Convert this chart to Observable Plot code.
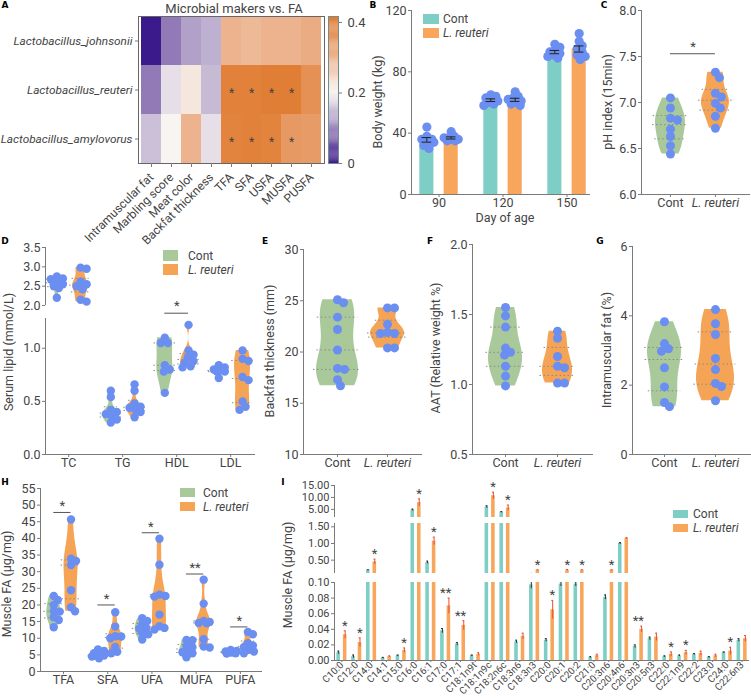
<!DOCTYPE html>
<html><head><meta charset="utf-8">
<script src="https://cdn.jsdelivr.net/npm/d3@7"></script>
<script src="https://cdn.jsdelivr.net/npm/@observablehq/plot@0.6"></script>
<style>
html,body{margin:0;padding:0;background:#fff;}
#root{position:relative;width:751px;height:698px;overflow:hidden;background:#fff;font-family:Roboto,"Open Sans",sans-serif;}
</style></head><body><div id="root"></div>
<script>
// ---------------- DATA ----------------
// Panel A
const heatRows = ["Lactobacillus_johnsonii","Lactobacillus_reuteri","Lactobacillus_amylovorus"];
const heatCols = ["Intramuscular fat","Marbling score","Meat color","Backfat thickness","TFA","SFA","USFA","MUSFA","PUSFA"];
const heatJohnsonii  = [0.00,0.085,0.12,0.135,0.30,0.29,0.30,0.30,0.315];
const heatReuteri    = [0.085,0.18,0.22,0.145,0.405,0.405,0.41,0.41,0.37];
const heatAmylovorus = [0.15,0.20,0.30,0.18,0.40,0.405,0.40,0.355,0.35];
const heatStarsReuteri    = ["TFA","SFA","USFA","MUSFA"];
const heatStarsAmylovorus = ["TFA","SFA","USFA","MUSFA"];
const heatLegendTicks = [0,0.2,0.4];
const heatTitle = "Microbial makers vs. FA";
// Panel B
const bwDays = ["90","120","150"];
const bwCont    = [[44,38,36,35,34,32,30,36],[65,64,62,61,60,59,58,63],[98,96,94,93,92,90,89,91]];
const bwReuteri = [[41,38,37,36,36,35,35,37],[67,64,62,61,60,59,58,63],[105,100,97,95,93,91,88,90]];
// Panel C
const phCont    = [7.05,6.94,6.83,6.81,6.71,6.63,6.53,6.44];
const phReuteri = [7.33,7.27,7.10,7.06,6.99,6.94,6.85,6.72];
const phSig = "*", phSigY = 7.53;
// Panel D
const lipidCats = ["TC","TG","HDL","LDL"];
const lipidCont = [[2.75,2.70,2.68,2.62,2.55,2.50,2.45,2.20],[0.60,0.54,0.42,0.40,0.38,0.36,0.33,0.30],[1.10,1.05,1.05,0.84,0.80,0.78,0.58],[0.84,0.82,0.80,0.79,0.78,0.78,0.72]];
const lipidReuteri = [[2.98,2.95,2.62,2.55,2.50,2.42,2.15,2.10],[0.66,0.60,0.48,0.45,0.44,0.42,0.40,0.35],[1.22,0.98,0.94,0.91,0.88,0.86,0.83,0.82],[0.98,0.90,0.88,0.73,0.70,0.50,0.45,0.42]];
const lipidSig = ["","","*",""], lipidSigY = 1.33;
// Panels E, F, G
const backfatCont    = [25.1,24.8,23.4,22.2,20.2,18.4,18.3,17.3,16.7];
const backfatReuteri = [24.3,24.3,22.7,21.9,21.8,21.8,20.4,20.4];
const aatCont    = [1.55,1.49,1.41,1.26,1.23,1.21,1.13,1.06,0.99];
const aatReuteri = [1.38,1.33,1.20,1.13,1.12,1.01,1.01];
const imfCont    = [3.83,3.20,3.05,2.98,2.50,1.95,1.50,1.38];
const imfReuteri = [4.18,3.77,3.46,2.77,2.45,2.05,1.96,1.55];
// Panel H
const mfaCats = ["TFA","SFA","UFA","MUFA","PUFA"];
const mfaCont = [[22.7,21.5,20.0,18.2,18.0,16.3,15.5,13.3],[6.6,6.2,5.5,5.1,4.8,4.7,4.5,4.0],[16.0,15.2,14.2,13.0,12.9,11.5,11.2,9.6],[9.5,9.4,7.7,7.3,6.2,5.8,5.5,4.3],[6.5,6.2,6.0,5.9,5.8,5.7,5.5,5.4]];
const mfaReuteri = [[45.7,33.9,33.2,32.0,24.4,19.3,18.1],[17.8,13.5,10.6,10.5,10.0,7.4,5.9,5.5],[39.9,32.1,23.1,22.7,22.5,17.1,13.6,13.1,12.6],[27.6,20.4,15.2,14.9,14.6,14.5,9.7,7.5,7.2],[11.9,11.2,8.5,7.8,7.3,6.5,6.0,5.5]];
const mfaSig = ["*","*","*","**","*"];
const mfaSigY = [47.8,20.0,41.7,29.3,13.4];
// Panel I
const faNames = ["C10:0","C12:0","C14:0","C14:1","C15:0","C16:0","C16:1","C17:0","C17:1","C18:1n9t","C18:1n9c","C18:2n6c","C18:3n6","C18:3n3","C20:0","C20:1","C20:2","C21:0","C20:3n6","C20:4n6","C20:3n3","C20:5n3","C22:0","C22:1n9","C22:2","C23:0","C24:0","C22:6n3"];
const faCont     = [0.010,0.005,0.20,0.003,0.006,4.7,0.43,0.038,0.021,0.006,6.0,3.8,0.024,0.097,0.026,0.098,0.098,0.004,0.081,1.0,0.018,0.028,0.005,0.006,0.008,0.004,0.010,0.026];
const faReuteri  = [0.033,0.023,0.45,0.005,0.013,7.8,1.07,0.070,0.045,0.008,10.7,5.6,0.031,0.20,0.065,0.20,0.20,0.006,0.20,1.15,0.040,0.030,0.008,0.010,0.009,0.006,0.012,0.028];
const faContErr  = [0.002,0.002,0.01,0.001,0.001,0.4,0.04,0.003,0.002,0.001,0.5,0.3,0.002,0.005,0.002,0.003,0.003,0.001,0.003,0.03,0.002,0.002,0.001,0.001,0.001,0.001,0.001,0.002];
const faReuteriErr=[0.005,0.006,0.08,0.001,0.003,1.6,0.12,0.010,0.006,0.002,1.5,1.2,0.004,0.01,0.012,0.02,0.01,0.002,0.01,0.03,0.004,0.005,0.003,0.003,0.003,0.002,0.005,0.004];
const faSig = ["*","*","*","","*","*","*","**","**","","*","*","","*","*","*","*","","*","","**","","*","*","","","*",""];
const groupNames = ["Cont","L. reuteri"];

// ---------------- STYLE ----------------
const FONT = "Roboto, 'Open Sans', sans-serif";
const TXT = "#444", AX = "#7a7a7a", DOT = "#6b8ef1";
const CONT_BAR = "#7dcec5", LR_BAR = "#f7a65b";
const CONT_VIO = "#a9c99b", LR_VIO = "#f5a456";
const root = document.getElementById("root");

function mk(opts, left, top){
  const svg = Plot.plot({...opts, style:{fontFamily:FONT, fontSize:"12.5px", color:TXT, background:"transparent", overflow:"visible"}});
  svg.style.position = "absolute"; svg.style.left = left+"px"; svg.style.top = top+"px";
  root.appendChild(svg); return svg;
}
function txt(x, y, s, o={}){
  const d = document.createElement("div"); d.textContent = s;
  const tr = o.left ? "translate(0,-50%)" : "translate(-50%,-50%)"+(o.rot?" rotate(-90deg)":"");
  Object.assign(d.style, {position:"absolute", left:x+"px", top:y+"px", transform:tr,
    whiteSpace:"nowrap", fontSize:(o.size||12.5)+"px", color:o.color||TXT, fontWeight:o.bold?"bold":"normal",
    fontStyle:o.italic?"italic":"normal", fontFamily:o.font||FONT, lineHeight:"1"});
  root.appendChild(d);
}
function legend(x, y, items, sw, sh, gap, tx){
  items.forEach((it,k)=>{
    const s = document.createElement("div");
    Object.assign(s.style,{position:"absolute", left:x+"px", top:(y+k*gap)+"px", width:sw+"px", height:sh+"px", background:it.color});
    root.appendChild(s);
    txt(tx, y+k*gap+sh/2, it.label, {italic:it.italic, size:12, left:true});
  });
}
function kdeProfile(values, n=60){
  const s = values.slice().sort(d3.ascending);
  const mn = s[0], mx = s[s.length-1];
  const sd = d3.deviation(s);
  const iqr = d3.quantile(s,0.75)-d3.quantile(s,0.25);
  let h = 0.9*Math.min(sd, iqr>0 ? iqr/1.34 : sd)*Math.pow(s.length,-0.2);
  if(!(h>0)) h = (mx-mn)/4 || 0.01;
  const dens = y => d3.mean(s, v => Math.exp(-0.5*((y-v)/h)**2));
  const pts = d3.range(n+1).map(i => { const y = mn+(mx-mn)*i/n; return {y, d:dens(y)}; });
  const dmax = d3.max(pts, p => p.d);
  pts.forEach(p => p.w = p.d/dmax);
  return {pts, w: y => dens(y)/dmax, s};
}
// simple beeswarm in pixel space: returns horizontal pixel offsets
function swarmOffsets(values, pxY, r, factor, maxOff){
  const order = d3.range(values.length).sort((a,b)=>d3.descending(values[a],values[b]));
  const placed = [], off = new Array(values.length).fill(0), minD = 2*r*factor;
  for(const i of order){
    const y = values[i]*pxY;
    let best = 0, bestD = -1;
    for(let k=0;k<=2*maxOff;k++){
      const c = k===0 ? 0 : (k%2 ? 1 : -1)*Math.ceil(k/2);
      const dmin = placed.length ? d3.min(placed, p => Math.hypot(p.x-c, p.y-y)) : Infinity;
      if(dmin >= minD){ best = c; break; }
      if(dmin > bestD){ bestD = dmin; best = c; }
    }
    off[i] = best; placed.push({x:best, y});
  }
  return off;
}
function violinPlot(c){
  const {left, top, width, height, mL, mT, mR, mB, xDom, yDom, yTicks, yFmt, groups, r=4.5} = c;
  const pxX = (width-mL-mR)/(xDom[1]-xDom[0]);
  const pxY = (height-mT-mB)/(yDom[1]-yDom[0]);
  const marks = [];
  for(const g of groups){
    const prof = kdeProfile(g.values); const hw = g.hw/pxX;
    marks.push(Plot.areaX(prof.pts, {y:"y", x1:p=>g.pos-hw*p.w, x2:p=>g.pos+hw*p.w, fill:g.fill}));
    const qs = [0.25,0.5,0.75].map(q => d3.quantile(prof.s, q));
    marks.push(Plot.ruleY(qs, {y:d=>d, x1:d=>g.pos-hw*prof.w(d)-3/pxX, x2:d=>g.pos+hw*prof.w(d)+3/pxX, stroke:"#8a8a8a", strokeDasharray:"1.5,2.5"}));
  }
  for(const g of groups){
    const off = swarmOffsets(g.values, pxY, r, c.factor || 0.72, Math.max(6, Math.round(g.hw*0.7)));
    marks.push(Plot.dot(g.values.map((v,i)=>({x:g.pos+off[i]/pxX, y:v})), {x:"x", y:"y", r, fill:DOT}));
  }
  marks.push(Plot.ruleX([xDom[0]], {y1:c.yLine[0], y2:c.yLine[1], stroke:AX}));
  if(c.xLine !== false) marks.push(Plot.ruleY([yDom[0]], {stroke:AX}));
  marks.push(Plot.axisY({ticks:yTicks, tickFormat:yFmt, tickSize:3, tickPadding:2, stroke:AX, label:null}));
  if(c.xTicks){
    c.xTicks.forEach((p,k)=>{
      marks.push(Plot.axisX({ticks:[p], tickFormat:()=>c.xLabels[k], fontStyle:(c.italic||[]).includes(k)?"italic":"normal", tickSize:3, tickPadding:1, stroke:AX, label:null}));
    });
  }
  if(c.extra) marks.push(...c.extra);
  return mk({width, height, marginLeft:mL, marginTop:mT, marginRight:mR, marginBottom:mB,
    x:{domain:xDom, axis:null}, y:{domain:yDom, axis:null}, marks}, left, top);
}

// ---------------- PANEL A ----------------
const heatData = [];
[heatJohnsonii, heatReuteri, heatAmylovorus].forEach((arr,r)=>arr.forEach((v,c)=>heatData.push({row:heatRows[r], col:heatCols[c], v})));
const heatStars = [...heatStarsReuteri.map(col=>({row:heatRows[1], col})), ...heatStarsAmylovorus.map(col=>({row:heatRows[2], col}))];
const heatColor = {type:"linear", domain:[0,0.1,0.2,0.3,0.417], range:["#3b1a8c","#a08bbd","#f7f4f2","#ecb38e","#e07b30"]};
mk({width:330, height:230, marginLeft:138, marginRight:6, marginTop:16, marginBottom:67,
  x:{domain:heatCols, padding:0, axis:null}, y:{domain:heatRows, padding:0, axis:null}, color:heatColor,
  marks:[
    Plot.cell(heatData, {x:"col", y:"row", fill:"v"}),
    Plot.text(heatStars, {x:"col", y:"row", text:()=>"*", fontSize:12, fill:"#444", dy:3}),
    Plot.frame({stroke:"#666"}),
    Plot.axisY({tickSize:3, tickPadding:3, fontStyle:"italic", fontSize:11.8, stroke:AX, label:null}),
    Plot.axisX({tickRotate:-45, tickSize:4, fontSize:12, stroke:AX, label:null})
  ]}, 0, 0);
const stripes = d3.range(0, 0.417, 0.003);
mk({width:40, height:230, marginLeft:2, marginRight:28, marginTop:16, marginBottom:67,
  x:{domain:[0,1], axis:null}, y:{domain:[0,0.417], axis:null}, color:heatColor,
  marks:[
    Plot.rect(stripes, {x1:0, x2:1, y1:d=>d, y2:d=>Math.min(0.417, d+0.0035), fill:d=>d}),
    Plot.frame({stroke:"#6f8f8f"}),
    Plot.axisY({anchor:"right", ticks:heatLegendTicks, tickFormat:d=>d===0?"0":d.toFixed(1), tickSize:3, fontSize:13, stroke:AX, label:null})
  ]}, 326, 0);
txt(234, 8, heatTitle, {size:13});

// ---------------- PANEL B ----------------
{
  const xDom = [-0.43, 2.367], pxX = 64, pxY = 184/120;
  const stats = [], pts = [];
  bwDays.forEach((d,i)=>{
    [[bwCont[i], -0.19, "c"], [bwReuteri[i], 0.19, "r"]].forEach(([vals, off, g])=>{
      const pos = i+off;
      stats.push({pos, g, mean:d3.mean(vals), sem:d3.deviation(vals)/Math.sqrt(vals.length)});
      const o = swarmOffsets(vals, pxY, 4.6, 0.55, 7);
      vals.forEach((v,k)=>pts.push({x:pos+o[k]/pxX, y:v}));
    });
  });
  mk({width:235, height:225, marginLeft:51, marginTop:10, marginRight:5, marginBottom:31,
    x:{domain:xDom, axis:null}, y:{domain:[0,120], axis:null},
    marks:[
      Plot.rect(stats.filter(d=>d.g==="c"), {x1:d=>d.pos-0.11, x2:d=>d.pos+0.11, y1:0, y2:"mean", fill:CONT_BAR}),
      Plot.rect(stats.filter(d=>d.g==="r"), {x1:d=>d.pos-0.11, x2:d=>d.pos+0.11, y1:0, y2:"mean", fill:LR_BAR}),
      Plot.dot(pts, {x:"x", y:"y", r:4.6, fill:DOT}),
      Plot.ruleX(stats, {x:"pos", y1:d=>d.mean-d.sem, y2:d=>d.mean+d.sem, stroke:"#222"}),
      Plot.ruleY(stats, {y:d=>d.mean+d.sem, x1:d=>d.pos-0.075, x2:d=>d.pos+0.075, stroke:"#222"}),
      Plot.ruleY(stats, {y:d=>d.mean-d.sem, x1:d=>d.pos-0.075, x2:d=>d.pos+0.075, stroke:"#222"}),
      Plot.ruleX([xDom[0]], {stroke:AX}),
      Plot.ruleY([0], {stroke:AX}),
      Plot.axisY({ticks:[0,40,80,120], tickSize:3, tickPadding:2, stroke:AX, label:null}),
      Plot.axisX({ticks:[0,1,2], tickFormat:i=>bwDays[i], tickSize:3, tickPadding:1, stroke:AX, label:null})
    ]}, 360, 0);
  txt(378, 102, "Body weight (kg)", {rot:true});
  txt(505, 218, "Day of age");
  legend(423, 14, [{color:CONT_BAR, label:groupNames[0]}, {color:LR_BAR, label:groupNames[1], italic:true}], 16, 10, 14, 443);
}

// ---------------- PANEL C ----------------
violinPlot({left:595, top:0, width:156, height:225, mL:46, mT:10, mR:1, mB:31,
  xDom:[-0.644,1.78], yDom:[6,8], yTicks:[6,6.5,7,7.5,8], yFmt:d=>d.toFixed(1), yLine:[6,8],
  groups:[{pos:0, values:phCont, fill:CONT_VIO, hw:15},{pos:1, values:phReuteri, fill:LR_VIO, hw:14}],
  xTicks:[0,1], xLabels:groupNames, italic:[1],
  extra:[Plot.ruleY([phSigY], {x1:0, x2:1, stroke:"#555"}), Plot.text([phSig], {x:0.5, y:phSigY, text:d=>d, dy:-3, lineAnchor:"bottom", fontSize:13, fill:"#444"})]});
txt(608, 102, "pH index (15min)", {rot:true});

// ---------------- PANEL D ----------------
{
  const xDom = [-0.43, 3.46];
  violinPlot({left:0, top:232, width:260, height:75, mL:45, mT:15, mR:5, mB:2,
    xDom, yDom:[2,3.5], yTicks:[2,2.5,3,3.5], yFmt:d=>d.toFixed(1), yLine:[2,3.5], xLine:false, r:4.2,
    groups:[{pos:-0.22, values:lipidCont[0], fill:CONT_VIO, hw:8},{pos:0.22, values:lipidReuteri[0], fill:LR_VIO, hw:8}]});
  const gs = [];
  for(let i=1;i<lipidCats.length;i++){
    gs.push({pos:i-0.22, values:lipidCont[i], fill:CONT_VIO, hw:8});
    gs.push({pos:i+0.22, values:lipidReuteri[i], fill:LR_VIO, hw:8});
  }
  const sig = lipidSig.map((s,i)=>({i,s})).filter(d=>d.s);
  violinPlot({left:0, top:310, width:260, height:166, mL:45, mT:8, mR:5, mB:22,
    xDom, yDom:[0,1.28], yTicks:[0,0.5,1.0], yFmt:d=>d.toFixed(1), yLine:[0,1.28], r:4.2, groups:gs,
    xTicks:[0,1,2,3], xLabels:lipidCats,
    extra:[Plot.ruleY(sig, {y:lipidSigY, x1:d=>d.i-0.22, x2:d=>d.i+0.22, stroke:"#555"}),
           Plot.text(sig, {x:"i", y:lipidSigY, text:"s", dy:-3, lineAnchor:"bottom", fontSize:13, fill:"#444"})]});
  txt(9, 352, "Serum lipid (mmol/L)", {rot:true});
  legend(163, 250, [{color:CONT_VIO, label:groupNames[0]}, {color:LR_VIO, label:groupNames[1], italic:true}], 15, 11, 14, 188);
}

// ---------------- PANELS E F G ----------------
violinPlot({left:250, top:230, width:175, height:245, mL:53, mT:19, mR:3, mB:21,
  xDom:[-0.68,1.70], yDom:[10,30], yTicks:[10,15,20,25,30], yFmt:d=>String(d), yLine:[10,30],
  groups:[{pos:0, values:backfatCont, fill:CONT_VIO, hw:21},{pos:1, values:backfatReuteri, fill:LR_VIO, hw:17}],
  xTicks:[0,1], xLabels:groupNames, italic:[1]});
txt(270, 351, "Backfat thickness (mm)", {rot:true});
violinPlot({left:425, top:230, width:170, height:245, mL:47, mT:14, mR:2, mB:21,
  xDom:[-0.635,1.692], yDom:[0.5,2.0], yTicks:[0.5,1,1.5,2], yFmt:d=>d.toFixed(1), yLine:[0.5,2.0],
  groups:[{pos:0, values:aatCont, fill:CONT_VIO, hw:17},{pos:1, values:aatReuteri, fill:LR_VIO, hw:15}],
  xTicks:[0,1], xLabels:groupNames, italic:[1]});
txt(436, 348, "AAT (Relative weight %)", {rot:true});
violinPlot({left:595, top:230, width:156, height:245, mL:37, mT:16, mR:0, mB:21,
  xDom:[-0.627,1.706], yDom:[0,6], yTicks:[0,2,4,6], yFmt:d=>String(d), yLine:[0,6],
  groups:[{pos:0, values:imfCont, fill:CONT_VIO, hw:17},{pos:1, values:imfReuteri, fill:LR_VIO, hw:19}],
  xTicks:[0,1], xLabels:groupNames, italic:[1]});
txt(607, 350, "Intramuscular fat (%)", {rot:true});

// ---------------- PANEL H ----------------
{
  const gs = [];
  mfaCats.forEach((c,i)=>{
    gs.push({pos:i-0.22, values:mfaCont[i], fill:CONT_VIO, hw:7});
    gs.push({pos:i+0.17, values:mfaReuteri[i], fill:LR_VIO, hw:7});
  });
  const sig = mfaSig.map((s,i)=>({i, s, y:mfaSigY[i]}));
  violinPlot({left:0, top:478, width:265, height:220, mL:40, mT:10, mR:3, mB:27,
    xDom:[-0.52,4.5], yDom:[0,55], yTicks:d3.range(0,56,5), yFmt:d=>String(d), yLine:[0,55], r:4.2, groups:gs, factor:0.62,
    xTicks:[0,1,2,3,4], xLabels:mfaCats,
    extra:[Plot.ruleY(sig, {y:"y", x1:d=>d.i-0.22, x2:d=>d.i+0.17, stroke:"#555"}),
           Plot.text(sig, {x:d=>d.i-0.025, y:"y", text:"s", dy:-2, lineAnchor:"bottom", fontSize:13, fill:"#444"})]});
  txt(7, 584, "Muscle FA (μg/mg)", {rot:true});
  legend(180, 488, [{color:CONT_VIO, label:groupNames[0]}, {color:LR_VIO, label:groupNames[1], italic:true}], 15, 9, 14, 203);
}

// ---------------- PANEL I ----------------
function faSeg(top, height, mT, mB, yDom, yTicks, showX){
  const rows = faNames.map((n,i)=>({i, c:faCont[i], r:faReuteri[i], ce:faContErr[i], re:faReuteriErr[i], sig:faSig[i]}));
  const topOf = d => Math.max(d.r+d.re, d.c+d.ce);
  const stars = rows.filter(d => d.sig && topOf(d) >= yDom[0] && topOf(d) < yDom[1]);
  const marks = [
    Plot.rect(rows, {x1:d=>d.i-0.34, x2:d=>d.i-0.10, y1:0, y2:"c", fill:CONT_BAR, clip:true}),
    Plot.rect(rows, {x1:d=>d.i+0.10, x2:d=>d.i+0.34, y1:0, y2:"r", fill:LR_BAR, clip:true}),
    Plot.ruleX(rows, {x:d=>d.i-0.22, y1:d=>d.c-d.ce, y2:d=>d.c+d.ce, stroke:"#333", clip:true}),
    Plot.ruleY(rows, {y:d=>d.c+d.ce, x1:d=>d.i-0.28, x2:d=>d.i-0.16, stroke:"#333", clip:true}),
    Plot.ruleX(rows, {x:d=>d.i+0.22, y1:d=>d.r-d.re, y2:d=>d.r+d.re, stroke:"#e8503a", clip:true}),
    Plot.ruleY(rows, {y:d=>d.r+d.re, x1:d=>d.i+0.16, x2:d=>d.i+0.28, stroke:"#e8503a", clip:true}),
    Plot.text(stars, {x:d=>d.sig==="**"?d.i:d.i+0.2, y:topOf, text:"sig", dy:-1, lineAnchor:"bottom", fontSize:13, fill:"#444"}),
    Plot.ruleX([-0.5], {y1:yDom[0], y2:yDom[1], stroke:AX}),
    Plot.axisY({ticks:yTicks, tickFormat:d=>d.toFixed(2), tickSize:3, tickPadding:2, fontSize:11, stroke:AX, label:null})
  ];
  if(showX){
    marks.push(Plot.ruleY([0], {stroke:AX}));
    marks.push(Plot.axisX({ticks:d3.range(faNames.length), tickFormat:i=>faNames[i], tickRotate:-45, tickSize:2, tickPadding:1, fontSize:9.8, stroke:AX, label:null}));
  }
  mk({width:461, height, marginLeft:44, marginRight:2, marginTop:mT, marginBottom:mB,
    x:{domain:[-0.5,27.5], axis:null}, y:{domain:yDom, axis:null}, marks}, 290, top);
}
faSeg(478, 42, 7, 3, [1.6,15], [5,10,15], false);
faSeg(519, 56, 4, 2, [0.1,1.6], [0.5,1.0,1.5], false);
faSeg(576, 122, 6, 38, [0,0.1], [0,0.02,0.04,0.06,0.08,0.1], true);
txt(288, 575, "Muscle FA (μg/mg)", {rot:true});
legend(673, 510, [{color:CONT_BAR, label:groupNames[0]}, {color:LR_BAR, label:groupNames[1], italic:true}], 15, 8, 14, 693);

// ---------------- PANEL LETTERS ----------------
[["A",5,5],["B",373,5],["C",604,5],["D",5,241],["E",265,241],["F",430,241],["G",600,241],["H",5,482],["I",283,482]]
  .forEach(([s,x,y])=>txt(x, y, s, {bold:true, size:9, color:"#000", font:"'DejaVu Sans', sans-serif"}));
</script></body></html>
